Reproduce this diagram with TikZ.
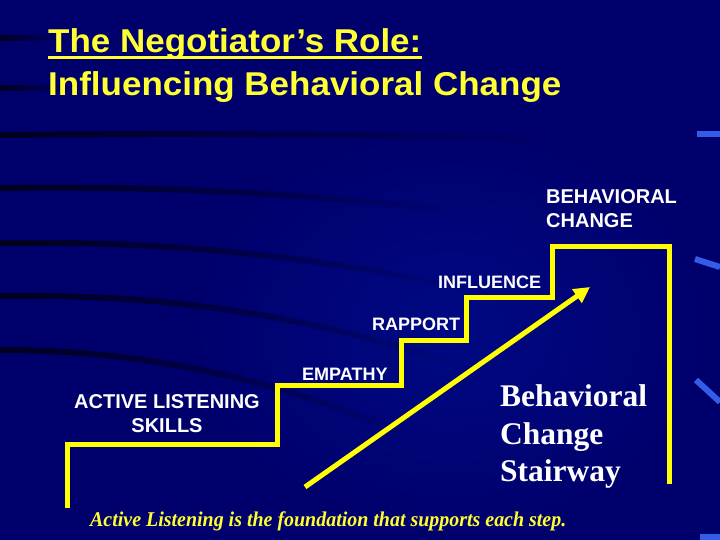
\documentclass[tikz,border=0pt]{standalone}
\usepackage{fontspec}
\setmainfont{Liberation Serif}
\setsansfont{Liberation Sans}
\usetikzlibrary{arrows.meta,fadings}
\definecolor{bgnavy}{HTML}{00006C}
\definecolor{bgglow}{HTML}{000C8A}
\definecolor{stairyellow}{HTML}{FFFF00}
\definecolor{titleyellow}{HTML}{FFFF33}
\definecolor{edgeblue}{HTML}{3D6EFF}
\tikzset{
  stair/.style={draw=stairyellow, line width=5pt, line join=miter, line cap=butt},
  steplabel/.style={text=white, font=\sffamily\bfseries\fontsize{18}{21}\selectfont, inner sep=0pt, anchor=base west},
  biglabel/.style={text=white, font=\sffamily\bfseries\fontsize{20}{24}\selectfont, inner sep=0pt},
  titletext/.style={text=titleyellow, font=\sffamily\bfseries\fontsize{33}{38}\selectfont, inner sep=0pt, anchor=base west, xscale=1.06},
  stairtitle/.style={text=white, font=\rmfamily\bfseries\fontsize{31.5}{37}\selectfont, inner sep=0pt, anchor=base west},
  streak/.style={draw=black, line width=6pt, opacity=0.7},
  edgemark/.style={draw=edgeblue, line width=6pt, opacity=0.85}
}
\begin{document}
\begin{tikzpicture}[x=1pt,y=-1pt]
\useasboundingbox (0,0) rectangle (720,540);
% background
\fill[bgnavy] (0,0) rectangle (720,540);
\shade[inner color=bgglow, outer color=bgnavy, opacity=0.8] (180,120) rectangle (720,540);
% dark streaks on the left
\draw[streak, path fading=east] (0,38) -- (60,38);
\draw[streak, path fading=east] (0,88) -- (70,88);
\draw[streak, path fading=east] (0,135) .. controls (200,133) and (400,134) .. (560,140);
\draw[streak, path fading=east] (0,188) .. controls (150,186) and (300,192) .. (460,212);
\draw[streak, path fading=east] (0,243) .. controls (150,241) and (300,252) .. (470,290);
\draw[streak, path fading=east] (0,296) .. controls (150,294) and (300,310) .. (470,370);
\draw[streak, path fading=east] (0,350) .. controls (120,350) and (260,370) .. (420,440);
% right-edge marks
\draw[edgemark] (697,134) -- (720,134);
\draw[edgemark] (695,259) -- (720,267);
\draw[edgemark] (696,380) -- (720,402);
\draw[edgemark] (700,537) -- (720,537);
% title
\node[titletext] (t1) at (48,53) {The Negotiator’s Role:};
\draw[titleyellow, line width=2.5pt] ([yshift=-4.5pt]t1.base west) -- ([yshift=-4.5pt]t1.base east);
\node[titletext] (t2) at (48,96) {Influencing Behavioral Change};
% stairway
\draw[stair] (67,508) -- (67,444) -- (277,444) -- (277,385) -- (401,385)
  -- (401,340) -- (466,340) -- (466,297) -- (552,297) -- (552,246)
  -- (669,246) -- (669,484);
% arrow
\draw[stairyellow, line width=5pt, -{Triangle[length=16pt,width=16pt]}] (305,487) -- (590,287);
% step labels
\node[biglabel, anchor=base west] (bc1) at (546,204) {BEHAVIORAL};
\node[biglabel, anchor=base west] (bc2) at (546,228) {CHANGE};
\node[steplabel] (inf) at (438,288) {INFLUENCE};
\node[steplabel] (rap) at (372,330) {RAPPORT};
\node[steplabel] (emp) at (302,380) {EMPATHY};
\node[biglabel, anchor=base] (als1) at (167,408) {ACTIVE LISTENING};
\node[biglabel, anchor=base] (als2) at (167,432) {SKILLS};
% stairway title
\node[stairtitle] (s1) at (500,406) {Behavioral};
\node[stairtitle] (s2) at (500,444) {Change};
\node[stairtitle] (s3) at (500,481) {Stairway};
% footer
\node[text=titleyellow, font=\rmfamily\bfseries\itshape\fontsize{21}{25}\selectfont, inner sep=0pt, anchor=base west, xscale=0.95] (foot) at (90,526) {Active Listening is the foundation that supports each step.};
\end{tikzpicture}
\end{document}
